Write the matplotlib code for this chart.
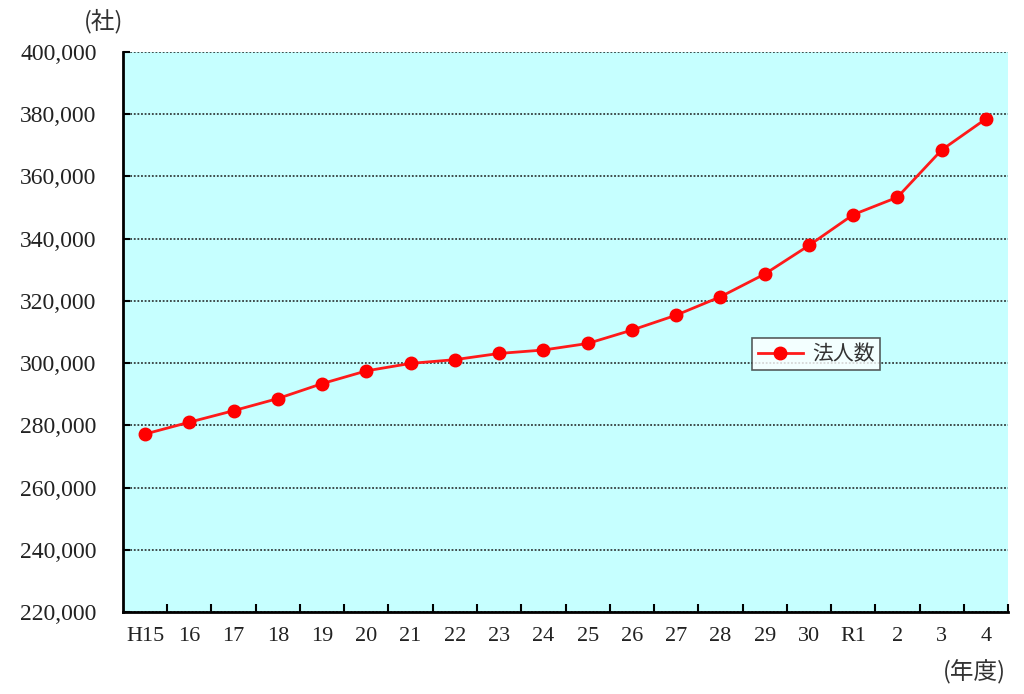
import matplotlib
matplotlib.use("Agg")
import matplotlib.pyplot as plt
from matplotlib.ticker import FixedLocator, FuncFormatter
import numpy as np

categories = ["H15", "16", "17", "18", "19", "20", "21", "22", "23", "24",
              "25", "26", "27", "28", "29", "30", "R1", "2", "3", "4"]
corporations = [277200, 281000, 284700, 288600, 293400, 297500, 299900, 301100,
                303100, 304200, 306300, 310600, 315400, 321300, 328600, 337800,
                347700, 353300, 368500, 378500]
y_ticks = [220000, 240000, 260000, 280000, 300000, 320000, 340000, 360000, 380000, 400000]
series_label = "法人数"
y_unit = "(社)"
x_unit = "(年度)"

serif = ["Liberation Serif", "DejaVu Serif"]
jp = ["Noto Sans CJK JP", "DejaVu Sans"]

fig = plt.figure(figsize=(10.24, 6.94), dpi=100)
ax = fig.add_axes([0.1201, 0.1182, 0.8643, 0.8069])
ax.set_facecolor("#C6FFFF")

x = np.arange(len(categories))
ax.plot(x, corporations, color="#FF1A1A", lw=2, marker="o", markersize=9,
        markerfacecolor="#FF0000", markeredgecolor="#FF0000", label=series_label, zorder=3)

ax.set_xlim(-0.5, len(categories) - 0.5)
ax.set_ylim(y_ticks[0], y_ticks[-1])

ax.set_yticks(y_ticks)
ax.yaxis.set_major_formatter(FuncFormatter(lambda v, p: f"{int(v):,}"))
ax.tick_params(axis="y", direction="in", length=5, width=1.5, labelsize=17, pad=19,
               labelcolor="#222222")
for lab in ax.get_yticklabels():
    lab.set_family(serif)

ax.xaxis.set_major_locator(FixedLocator(np.arange(0.5, len(categories) - 0.4, 1.0)))
ax.xaxis.set_major_formatter(FuncFormatter(lambda v, p: ""))
ax.xaxis.set_minor_locator(FixedLocator(x))
ax.set_xticklabels(categories, minor=True)
ax.tick_params(axis="x", which="major", direction="in", length=6, width=1.5)
ax.tick_params(axis="x", which="minor", length=0, labelsize=16, pad=11, labelcolor="#222222")
for lab in ax.get_xticklabels(minor=True):
    lab.set_family(serif)

ax.grid(axis="y", linestyle=(0, (1, 1)), color="#333d3d", linewidth=1.3, zorder=1)
ax.set_axisbelow(True)

for s in ["top", "right"]:
    ax.spines[s].set_visible(False)
for s in ["left", "bottom"]:
    ax.spines[s].set_linewidth(2)
    ax.spines[s].set_color("black")

leg = ax.legend(loc="center", bbox_to_anchor=(0.783, 0.461), frameon=True,
                fancybox=False, prop={"family": jp, "size": 15}, handlelength=2.2,
                borderpad=0.25, handletextpad=0.4, borderaxespad=0)
leg.get_frame().set_edgecolor("#333333")
leg.get_frame().set_linewidth(1.2)
for t in leg.get_texts():
    t.set_color("#333333")

fig.text(0.082, 0.970, y_unit, family=jp, fontsize=17, ha="left", va="center", color="#333333")
fig.text(0.982, 0.031, x_unit, family=jp, fontsize=17, ha="right", va="center", color="#333333")

fig.savefig("out.png", dpi=100)
